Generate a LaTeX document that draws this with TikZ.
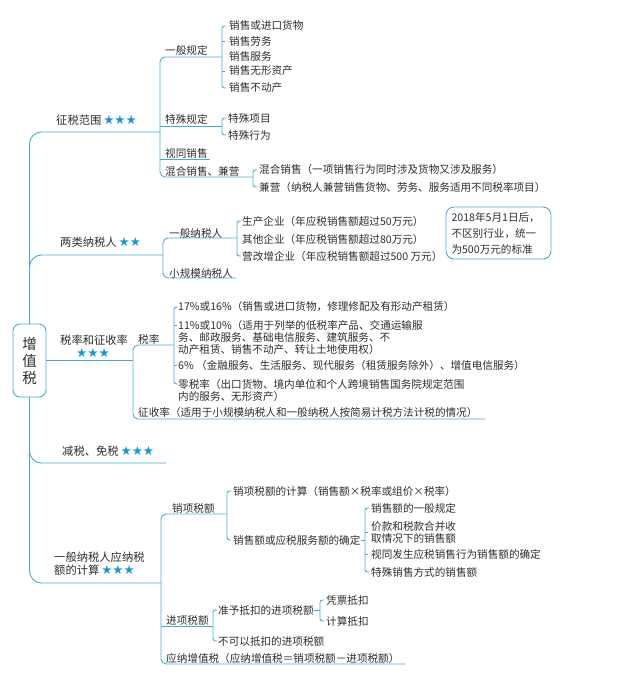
\documentclass[tikz,border=0pt]{standalone}
\usepackage{fontspec}
\newfontfamily\cjk{Noto Sans CJK SC}
\newfontfamily\starfont{DejaVu Sans}
\usetikzlibrary{positioning}
\definecolor{lc}{RGB}{72,172,210}
\definecolor{tc}{RGB}{45,45,45}
\definecolor{sc}{RGB}{25,150,215}
\newcommand\stars[1]{{\starfont\color{sc}\fontsize{12.5}{13}\selectfont #1}}
\newcommand\brak[3]{\draw[ln,rounded corners=2.5pt] ({#1+4},#2) -- (#1,#2) -- (#1,#3) -- ({#1+4},#3);}
\newcommand\tick[2]{\draw[ln] (#1,#2) -- ({#1+2.5},#2);}
\begin{document}
\begin{tikzpicture}[x=1pt,y=-1pt,
  ln/.style={draw=lc,line width=0.9pt},
  t/.style={anchor=west,inner sep=0pt,text=tc,font=\cjk\fontsize{10.6}{12}\selectfont},
  tl/.style={anchor=west,inner sep=0pt,text=tc,font=\cjk\fontsize{11.3}{13}\selectfont},
  note/.style={draw=lc,line width=0.9pt,rounded corners=8pt,text=tc,align=left,inner sep=0pt,
    font=\cjk\fontsize{10.6}{16}\selectfont}]
\useasboundingbox (0,0) rectangle (623,679);
% root
\node[draw=lc,line width=0.9pt,rounded corners=7pt,minimum width=33pt,minimum height=73pt,
  inner sep=0pt,align=center,text=tc,font=\cjk\fontsize{14.5}{17}\selectfont] (root) at (29.5,360.5) {增\\值\\税};
% main branches
\coordinate (b1) at (160,132);
\coordinate (b2) at (163,255);
\coordinate (b3) at (133,360.5);
\coordinate (b4) at (166,463);
\coordinate (b5) at (161,583);
\draw[ln,rounded corners=12pt] (root.north) |- (b1);
\draw[ln,rounded corners=12pt] (root.north) |- (b2);
\draw[ln] (root.east) -- (b3);
\draw[ln,rounded corners=12pt] (root.south) |- (b4);
\draw[ln,rounded corners=12pt] (root.south) |- (b5);
\node[tl] (l1) at (56,120) {征税范围\,\stars{★★★}};
\node[tl] (l2) at (60,242) {两类纳税人\,\stars{★★}};
\node[tl] (l3) at (60,340) {税率和征收率};
\node[inner sep=0pt] (l3s) at (93,353) {\stars{★★★}};
\node[tl] (l4) at (62,451) {减税、免税\,\stars{★★★}};
\node[tl,align=left] (l5) at (54,563.5) {一般纳税人应纳税\\额的计算\,\stars{★★★}};
% ---------- branch 1
\draw[ln,rounded corners=5pt] (222,57) -- (160,57) -- (160,177) -- (253,177);
\draw[ln] (160,126) -- (222,126);
\draw[ln] (160,159) -- (210,159);
\node[t] (a1) at (165,50) {一般规定};
\node[t] (a2) at (165,119) {特殊规定};
\node[t] (a3) at (165,153) {视同销售};
\node[t] (a4) at (165,171) {混合销售、兼营};
\brak{222}{26}{88}\tick{222}{41}\tick{222}{71}
\node[t] (a11) at (229,25) {销售或进口货物};
\node[t] (a12) at (229,41) {销售劳务};
\node[t] (a13) at (229,56) {销售服务};
\node[t] (a14) at (229,71) {销售无形资产};
\node[t] (a15) at (229,87) {销售不动产};
\brak{222}{118}{135}
\node[t] (a21) at (228,118) {特殊项目};
\node[t] (a22) at (228,135) {特殊行为};
\brak{253}{170}{187}
\node[t] (a41) at (259,169) {混合销售（一项销售行为同时涉及货物又涉及服务）};
\node[t] (a42) at (259,187) {兼营（纳税人兼营销售货物、劳务、服务适用不同税率项目）};
% ---------- branch 2
\draw[ln,rounded corners=5pt] (237,238) -- (163,238) -- (163,278) -- (236,278);
\node[t] (c1) at (169,233) {一般纳税人};
\node[t] (c2) at (169,273) {小规模纳税人};
\brak{237}{221}{256}
\node[t] (c11) at (242,221) {生产企业（年应税销售额超过50万元）};
\node[t] (c12) at (242,239) {其他企业（年应税销售额超过80万元）};
\node[t] (c13) at (242,256) {营改增企业（年应税销售额超过500 万元）};
\node[note,minimum width=105pt,minimum height=52pt,text width=94pt] (nt) at (498.5,233)
  {2018年5月1日后，\\不区别行业，统一\\为500万元的标准};
% ---------- branch 3
\draw[ln,rounded corners=5pt] (174,345) -- (133,345) -- (133,419) -- (485,419);
\node[t] (d1) at (138,339) {税率};
\node[t] (d2) at (138,412) {征收率（适用于小规模纳税人和一般纳税人按简易计税方法计税的情况）};
\brak{174}{307}{384}\tick{174}{325}\tick{174}{365}
\node[t] (d11) at (178,307) {17\%或16\%（销售或进口货物，修理修配及有形动产租赁）};
\node[t,align=left] (d12) at (178,337) {11\%或10\%（适用于列举的低税率产品、交通运输服\\务、邮政服务、基础电信服务、建筑服务、不\\动产租赁、销售不动产、转让土地使用权）};
\node[t] (d13) at (178,365) {6\%\ （金融服务、生活服务、现代服务（租赁服务除外）、增值电信服务）};
\node[t,align=left] (d14) at (178,390) {零税率（出口货物、境内单位和个人跨境销售国务院规定范围\\内的服务、无形资产）};
% ---------- branch 5
\draw[ln,rounded corners=5pt] (227,514) -- (161,514) -- (161,664) -- (405,664);
\draw[ln] (161,626) -- (213,626);
\node[t] (e1) at (172,508) {销项税额};
\node[t] (e2) at (166,620) {进项税额};
\node[t] (e3) at (166,658) {应纳增值税（应纳增值税＝销项税额－进项税额）};
\brak{227}{491}{540}
\node[t] (e11) at (233,491) {销项税额的计算（销售额×税率或组价×税率）};
\node[t] (e12) at (233,540) {销售额或应税服务额的确定};
\draw[ln] (e12.east) -- (365,540);
\brak{365}{508}{572}\tick{365}{532}\tick{365}{554}
\node[t] (e21) at (371,508) {销售额的一般规定};
\node[t,align=left] (e22) at (371,532) {价款和税款合并收\\取情况下的销售额};
\node[t] (e23) at (371,554) {视同发生应税销售行为销售额的确定};
\node[t] (e24) at (371,572) {特殊销售方式的销售额};
\brak{213}{610}{641}
\node[t] (f11) at (218,610) {准予抵扣的进项税额};
\node[t] (f12) at (218,641) {不可以抵扣的进项税额};
\draw[ln] (f11.east) -- (320,610);
\brak{320}{600}{621}
\node[t] (f21) at (326,600) {凭票抵扣};
\node[t] (f22) at (326,621) {计算抵扣};
\end{tikzpicture}
\end{document}
